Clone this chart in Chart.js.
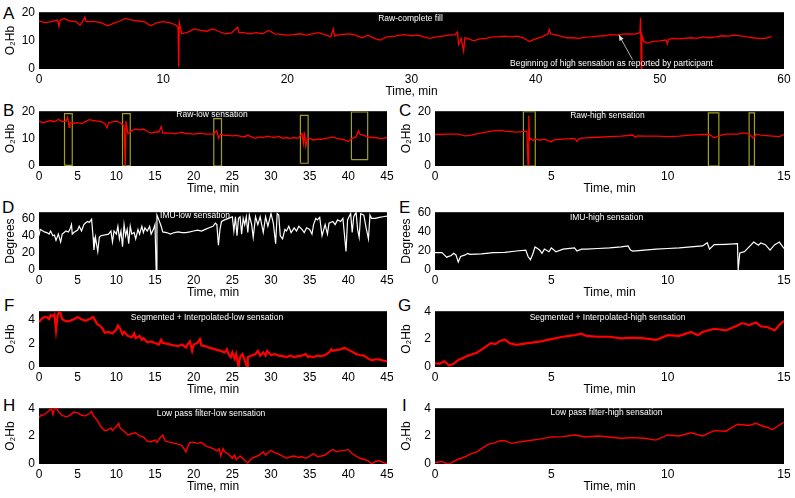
<!DOCTYPE html>
<html lang="en">
<head>
<meta charset="UTF-8">
<title>O2Hb and IMU signals</title>
<script src="https://cdn.jsdelivr.net/npm/chart.js/dist/chart.umd.min.js"></script>
<style>
  body { margin: 0; background: #fff; width: 795px; height: 498px; position: relative; overflow: hidden;
         font-family: "Liberation Sans", Arial, sans-serif; }
  canvas { position: absolute; }
  .tag { position: absolute; font-size: 17px; line-height: 17px; color: #000; }
</style>
</head>
<body>
<div class="tag" style="left:3px;top:5px">A</div>
<div class="tag" style="left:3px;top:102px">B</div>
<div class="tag" style="left:399px;top:102px">C</div>
<div class="tag" style="left:2px;top:199px">D</div>
<div class="tag" style="left:399px;top:199px">E</div>
<div class="tag" style="left:4px;top:297px">F</div>
<div class="tag" style="left:398px;top:297px">G</div>
<div class="tag" style="left:3px;top:397px">H</div>
<div class="tag" style="left:402px;top:397px">I</div>
<script>
// ---- data: [time (min), value] ----
const rawComplete = [[0,16.9],[0.5,16.3],[1,16.7],[1.5,17.2],[1.6,15.0],[1.7,17.0],[2,17.8],[2.5,16.9],[3,16.7],[3.3,15.4],[3.5,16.7],[3.7,18.3],[3.8,16.7],[4,16.7],[4.5,16.7],[5,16.3],[5.5,15.2],[6,16.1],[6.5,16.9],[7,17.8],[7.5,17.2],[8,16.9],[8.5,16.6],[9,15.2],[9.5,16.3],[10,16.7],[10.5,16.3],[11,15.6],[11.2,14.7],[11.25,0.8],[11.3,16.3],[11.5,12.4],[12,13.0],[12.5,14.1],[13,13.6],[13.5,13.3],[14,14.1],[14.5,13.2],[15,12.4],[15.5,12.7],[16,14.7],[16.1,12.8],[16.5,12.8],[17,12.4],[17.5,12.8],[18,12.4],[18.5,13.6],[19,12.4],[19.5,12.2],[20,11.9],[20.5,12.1],[21,12.4],[21.5,11.9],[22,12.4],[22.5,12.8],[23,12.1],[23.5,11.3],[23.7,14.1],[23.8,11.6],[24,11.9],[24.5,12.2],[25,12.4],[25.5,11.9],[26,11.0],[26.5,11.9],[27,10.8],[27.5,10.2],[28,11.3],[28.7,11.6],[29,11.9],[29.5,12.1],[30,11.7],[30.5,11.9],[31,11.3],[31.5,10.8],[32,11.3],[32.5,11.6],[33,11.9],[33.5,12.1],[33.7,13.0],[33.8,8.6],[34,10.8],[34.2,6.3],[34.3,11.0],[34.5,10.8],[35,9.9],[35.5,10.6],[36,10.8],[36.5,11.3],[37,11.3],[37.5,11.6],[38,11.3],[38.5,11.6],[39,11.0],[39.5,9.7],[40,10.6],[40.5,11.3],[41,12.4],[41.1,13.9],[41.2,12.4],[41.5,12.1],[42,11.6],[42.5,11.0],[43,11.0],[43.5,10.8],[44,11.2],[44.5,11.3],[45,11.6],[45.5,11.7],[46,12.1],[46.5,11.9],[47,12.3],[47.5,12.4],[48,12.3],[48.4,12.8],[48.45,18.0],[48.5,0],[48.55,12.0],[48.7,9.7],[49,9.1],[49.5,9.7],[50,9.9],[50.5,10.2],[50.6,8.8],[50.7,10.4],[51,10.8],[51.5,10.6],[52,10.8],[52.5,11.0],[53,10.8],[53.5,11.3],[54,11.0],[54.5,11.3],[55,11.7],[55.5,11.6],[56,11.9],[56.5,11.7],[57,11.3],[57.5,11.0],[58,10.8],[58.5,10.8],[59,11.4]];

const rawLow = [[0,16.4],[0.5,15.8],[1,16.2],[1.5,16.6],[2,16.1],[2.5,17.0],[3,16.2],[3.5,16.4],[3.7,17.8],[3.9,14.1],[4,15.8],[4.5,15.6],[5,15.8],[5.5,15.5],[6,16.2],[6.5,16.9],[7,16.6],[7.5,16.4],[8,16.2],[8.5,15.5],[8.8,13.9],[9,15.8],[9.5,16.1],[10,16.4],[10.5,15.8],[11,14.7],[11.15,0],[11.25,16.4],[11.5,11.8],[12,12.9],[12.5,13.5],[13,13.2],[13.5,13.5],[14,12.6],[14.5,12.0],[15,12.4],[15.5,12.4],[15.8,14.3],[16,12.0],[16.5,12.1],[17,12.0],[17.5,11.8],[18,12.0],[18.5,12.3],[19,11.8],[19.5,11.8],[20,11.6],[20.5,11.8],[21,12.0],[21.5,11.6],[22,11.6],[22.5,11.6],[23,12.9],[23.2,10.1],[23.5,11.6],[24,11.2],[24.5,11.2],[25,11.0],[25.5,11.2],[26,10.9],[26.5,10.6],[27,11.2],[27.5,10.6],[28,10.1],[28.5,10.6],[29,10.4],[29.5,10.9],[30,10.6],[30.5,10.4],[31,10.9],[31.5,10.1],[32,10.4],[32.5,10.1],[33,10.4],[33.5,10.1],[34,11.8],[34.2,8.3],[34.3,12.4],[34.5,7.2],[34.7,10.1],[35,10.1],[35.5,9.5],[36,9.8],[36.5,9.7],[37,10.1],[37.5,10.3],[38,10.6],[38.5,10.1],[39,9.8],[39.5,9.5],[40,8.9],[40.5,10.1],[41,10.6],[41.3,12.9],[41.5,11.6],[42,11.2],[42.5,10.6],[43,10.4],[43.5,10.4],[44,10.1],[44.5,10.1],[45,10.4]];

const rawHigh = [[0,11.5],[0.5,11.6],[1,11.6],[1.3,11.0],[1.5,11.2],[2,12.1],[2.5,12.8],[2.8,13.0],[3,12.7],[3.5,12.4],[3.95,12.7],[4.0,0],[4.03,18.3],[4.06,9.5],[4.1,10.1],[4.2,9.3],[4.3,9.8],[4.5,9.5],[4.7,9.8],[5,8.8],[5.1,9.5],[5.5,9.8],[6,10.1],[6.1,9.0],[6.2,10.1],[6.5,10.3],[7,10.5],[7.5,10.7],[8,10.9],[8.5,11.3],[8.6,10.5],[8.7,11.0],[9,10.9],[9.5,10.9],[10,10.7],[10.5,10.9],[11,11.3],[11.5,11.5],[11.8,11.5],[12,10.3],[12.3,11.3],[12.5,11.6],[13,11.6],[13.3,12.1],[13.5,11.6],[13.7,10.1],[13.8,11.6],[14,11.3],[14.5,10.9],[14.8,10.7],[15,11.5]];

const imuLow = [[0,39.7],[0.15,47.1],[0.3,46.3],[0.7,44.1],[1,43.4],[1.3,41.6],[1.5,45.2],[1.8,39.7],[2,40.5],[2.2,34.3],[2.5,41.6],[2.8,32.4],[3,41.6],[3.5,45.2],[3.8,44.1],[4,47.1],[4.2,52.6],[4.3,41.6],[4.5,43.4],[5,46.3],[5.2,50.7],[5.5,45.2],[5.8,52.6],[6,54.4],[6.3,56.2],[6.5,55.1],[6.8,58.8],[7,37.9],[7.1,23.3],[7.3,37.9],[7.6,21.4],[7.8,37.9],[8,39.7],[9,41.6],[9.3,45.2],[9.5,32.4],[9.7,45.2],[10,41.6],[10.2,50.7],[10.4,36.1],[10.6,45.2],[10.8,26.9],[11,52.6],[11.2,39.7],[11.4,47.1],[11.6,30.6],[11.8,50.7],[12,41.6],[12.3,43.4],[12.5,36.1],[12.8,47.1],[13,41.6],[13.3,50.7],[13.5,43.4],[13.7,48.9],[14,45.2],[14.3,50.7],[14.5,41.6],[14.8,47.1],[15,52.6],[15.15,0],[15.25,63.6],[15.5,58.1],[15.8,50.7],[16,44.1],[16.5,43.4],[17,41.6],[17.5,43.4],[18,44.1],[18.5,43.4],[19,43.4],[19.5,44.1],[20,45.2],[20.5,46.3],[21,45.2],[21.5,47.1],[22,48.9],[22.5,50.7],[22.8,54.4],[23,52.6],[23.2,28.8],[23.4,47.1],[23.6,56.2],[24,58.1],[24.5,59.9],[25,61.7],[25.2,45.2],[25.4,61.7],[25.6,39.7],[25.8,59.9],[26,61.7],[26.2,41.6],[26.4,59.9],[26.6,52.6],[26.8,61.7],[27,43.4],[27.2,63.6],[27.5,52.6],[27.7,37.9],[28,61.7],[28.3,52.6],[28.6,61.7],[29,43.4],[29.3,61.7],[29.6,50.7],[30,65.4],[30.3,54.4],[30.6,30.6],[30.8,65.4],[31,63.6],[31.2,39.7],[31.5,36.1],[31.8,47.1],[32,45.2],[32.3,50.7],[32.6,43.4],[33,48.9],[33.3,45.2],[33.6,50.7],[34,47.1],[34.3,43.4],[34.6,48.9],[35,47.1],[35.3,41.6],[35.5,52.6],[35.8,59.9],[36,58.1],[36.3,61],[36.6,39.7],[37,52.6],[37.3,41.6],[37.5,54.4],[38,56.2],[38.3,52.6],[38.6,58.1],[39,56.2],[39.3,59.9],[39.7,21.4],[39.9,58.1],[40,59.9],[40.3,65.4],[40.5,43.4],[40.7,61.7],[41,67],[41.2,47.1],[41.4,37.9],[41.6,65.4],[42,63.6],[42.3,48.9],[42.6,36.1],[42.8,63.6],[43,59.9],[43.5,59.9],[44,61],[44.5,61.7],[45,62.5]];

const imuHigh = [[0,18],[0.3,18],[0.4,15.7],[0.5,13.3],[0.7,15],[0.8,17.3],[0.9,15.7],[1,8.3],[1.1,14],[1.3,15.7],[1.4,17.3],[1.5,16.3],[2,16.7],[2.5,18],[3,18.3],[3.5,19.7],[3.9,20.7],[4,14],[4.1,10.7],[4.2,16.3],[4.3,24],[4.5,20.7],[4.6,17.3],[4.7,21.7],[4.9,19],[5,23],[5.2,19],[5.5,21.7],[6,23],[6.1,19.7],[6.3,21.7],[6.5,21.7],[7,22.3],[7.5,23],[8,24],[8.3,25],[8.4,20.7],[8.5,19.7],[9,20.7],[9.5,21.7],[10,22.3],[10.5,23],[11,24],[11.5,25],[11.7,28.3],[11.8,21.7],[12,26.3],[12.5,26.7],[13,27.3],[13.03,0],[13.1,17.7],[13.3,19],[13.5,24],[13.7,29],[13.9,25.7],[14,28],[14.2,26.3],[14.4,20.7],[14.6,26.3],[14.8,29],[15,22.3]];

const segLow = [[0,3.76],[0.3,4.03],[0.5,4.16],[1,4.21],[1.3,4.03],[1.5,4.37],[1.8,4.29],[2,4.43],[2.2,3.09],[2.4,4.29],[2.6,4.64],[2.8,4.48],[3,4.03],[3.5,3.84],[4,3.89],[4.5,4.03],[5,4.21],[5.5,4.03],[6,3.89],[6.5,4.03],[7,4.21],[7.3,3.89],[7.5,3.63],[8,3.41],[8.3,3.15],[8.5,2.88],[9,2.96],[9.5,2.83],[10,3.15],[10.2,3.49],[10.5,3.23],[10.8,2.77],[11,2.96],[11.5,2.61],[12,2.51],[12.3,2.83],[12.5,2.43],[13,2.61],[13.3,2.29],[13.5,2.43],[14,2.08],[14.5,2.16],[15,2.03],[15.5,1.89],[15.8,2.29],[16,2.03],[16.5,1.97],[17,1.89],[17.5,1.81],[18,1.76],[18.5,1.89],[19,1.63],[19.2,1.89],[19.5,2.16],[19.8,1.36],[20,1.89],[20.5,2.03],[20.8,2.35],[21,1.81],[21.5,1.76],[22,1.63],[22.5,1.55],[23,1.44],[23.5,1.36],[24,1.23],[24.3,1.49],[24.5,1.09],[24.8,0.83],[25,1.23],[25.3,0.69],[25.5,1.09],[25.8,0.03],[26,0.83],[26.3,1.09],[26.6,0.56],[26.9,0.02],[27,0.83],[27.5,0.96],[28,1.09],[28.3,1.36],[28.6,0.96],[29,1.23],[29.3,0.96],[29.5,1.36],[30,1.01],[30.5,1.09],[31,0.96],[31.5,0.91],[32,0.83],[32.5,0.96],[33,0.83],[33.5,0.91],[34,0.96],[34.5,1.09],[34.8,0.83],[35,0.91],[35.5,0.83],[36,0.96],[36.5,0.91],[37,1.01],[37.5,1.23],[37.8,1.49],[38,1.36],[38.5,1.44],[39,1.49],[39.5,1.63],[40,1.44],[40.5,1.28],[41,1.09],[41.5,1.01],[42,0.96],[42.5,0.75],[43,0.56],[43.5,0.64],[44,0.64],[44.5,0.53],[45,0.48]];

const segHigh = [[0,0.27],[0.2,0.23],[0.4,0.41],[0.5,0.27],[0.6,0.11],[0.8,0.23],[1,0.5],[1.2,0.64],[1.4,0.8],[1.6,0.91],[1.8,1.02],[2,1.25],[2.2,1.48],[2.4,1.71],[2.6,1.64],[2.8,1.87],[3,1.98],[3.2,1.71],[3.5,1.59],[4,1.71],[4.5,1.82],[5,2.0],[5.5,2.17],[6,2.28],[6.3,2.39],[6.5,2.23],[7,2.17],[7.5,2.17],[8,2.05],[8.5,2.1],[9,2.05],[9.5,1.94],[10,2.28],[10.5,2.23],[11,2.51],[11.3,2.28],[11.5,2.51],[12,2.74],[12.5,2.62],[13,2.97],[13.2,3.15],[13.5,3.01],[13.8,3.19],[14,2.92],[14.3,2.85],[14.6,2.62],[14.8,3.01],[15,3.31]];

const lpfLow = [[0,3.31],[0.3,3.54],[0.5,3.49],[1,3.67],[1.3,3.83],[1.6,3.99],[1.8,3.54],[2,3.99],[2.3,3.95],[2.5,3.76],[3,3.49],[3.5,3.38],[4,3.49],[4.5,3.72],[5,3.67],[5.5,3.49],[6,3.45],[6.5,3.6],[6.8,3.76],[7,3.49],[7.5,3.15],[8,2.69],[8.5,2.39],[9,2.46],[9.3,2.58],[9.5,2.39],[10,2.69],[10.3,2.92],[10.5,2.58],[11,2.35],[11.5,2.08],[12,2.17],[12.5,2.24],[13,2.01],[13.5,1.94],[14,1.62],[14.5,1.6],[15,1.71],[15.3,1.55],[15.5,1.78],[16,2.08],[16.3,1.67],[16.5,1.62],[17,1.55],[17.5,1.48],[18,1.43],[18.5,1.32],[19,0.87],[19.3,1.32],[19.5,1.55],[20,1.55],[20.5,1.48],[21,1.55],[21.5,1.32],[22,1.21],[22.5,1.1],[23,0.94],[23.3,1.1],[23.5,0.57],[23.8,1.1],[24,0.87],[24.5,0.71],[25,0.41],[25.3,0.64],[25.5,0.3],[26,0.57],[26.5,0.3],[27,0.07],[27.5,0.41],[28,0.52],[28.5,0.64],[29,0.87],[29.3,0.64],[29.5,0.75],[30,0.98],[30.5,0.8],[31,0.71],[31.5,0.57],[32,0.41],[32.5,0.52],[33,0.57],[33.5,0.48],[34,0.52],[34.5,0.41],[35,0.57],[35.5,0.75],[36,0.52],[36.5,0.57],[37,0.64],[37.5,0.87],[38,1.03],[38.5,0.87],[39,0.94],[39.5,0.98],[40,1.03],[40.5,0.75],[41,0.57],[41.5,0.41],[42,0.34],[42.5,0.25],[43,0.02],[43.5,0.18],[44,0.23],[44.5,0.11],[45,0.02]];

const lpfHigh = [[0,0.11],[0.3,0.18],[0.5,0.02],[0.6,0],[0.8,0.18],[1,0.34],[1.3,0.52],[1.5,0.71],[1.8,0.87],[2,1.1],[2.3,1.43],[2.5,1.48],[2.8,1.67],[3,1.67],[3.3,1.48],[3.5,1.55],[4,1.67],[4.5,1.78],[5,1.94],[5.5,1.96],[6,2.08],[6.5,1.94],[7,2.01],[7.5,1.94],[8,1.85],[8.5,1.89],[9,1.85],[9.5,1.71],[10,2.08],[10.5,2.01],[11,2.24],[11.5,2.01],[12,2.39],[12.5,2.35],[13,2.85],[13.5,2.76],[13.8,2.92],[14,2.76],[14.3,2.62],[14.5,2.46],[14.7,2.69],[15,2.99]];

// artefact windows: [t start, t end, y low, y high]
const boxesLow = [[3.3,4.3,0.2,19.1],[10.8,11.8,0.1,19.1],[22.6,23.6,0,17.3],[33.8,34.8,1.0,18.5],[40.4,42.5,2.3,19.7]];
const boxesHigh = [[3.8,4.31,0,19.8],[11.75,12.2,0,19.4],[13.5,13.73,0,19.4]];

// arrow in panel A: tail, head, text anchor  [t, O2Hb]
const noteA = { from: [47.8, 3.3], to: [46.7, 12], at: [46.1, 2.0],
                text: 'Beginning of high sensation as reported by participant' };

// tick values
const xTicks60 = [0, 10, 20, 30, 40, 50, 60];
const xTicks45 = [0, 5, 10, 15, 20, 25, 30, 35, 40, 45];
const xTicks15 = [0, 5, 10, 15];
const yTicksRaw = [0, 10, 20];
const yTicksImu = [0, 20, 40, 60];
const yTicksSeg = [0, 2, 4];

Chart.defaults.font.family = '"Liberation Sans", "DejaVu Sans", Arial, sans-serif';
Chart.defaults.color = '#000';

const panelDeco = {
  id: 'panelDeco',
  beforeDraw(chart) {
    const { ctx, chartArea: a } = chart;
    ctx.save();
    ctx.fillStyle = '#000';
    ctx.fillRect(a.left, a.top, a.right - a.left, a.bottom - a.top);
    ctx.restore();
  },
  afterDatasetsDraw(chart, args, opts) {
    const { ctx, chartArea: a, scales } = chart;
    ctx.save();
    ctx.fillStyle = '#fff';
    ctx.font = '8.5px "Liberation Sans", Arial, sans-serif';
    ctx.textAlign = 'center';
    ctx.textBaseline = 'middle';
    ctx.fillText(opts.label, (a.left + a.right) / 2 + opts.dx, a.top + opts.dy);
    if (opts.note) {
      const n = opts.note;
      const px = p => [scales.x.getPixelForValue(p[0]), scales.y.getPixelForValue(p[1])];
      const [x0, y0] = px(n.from), [x1, y1] = px(n.to), [tx, ty] = px(n.at);
      ctx.fillText(n.text, tx, ty);
      ctx.strokeStyle = '#e0e0e0';
      ctx.fillStyle = '#e0e0e0';
      ctx.lineWidth = 0.8;
      ctx.beginPath(); ctx.moveTo(x0, y0); ctx.lineTo(x1, y1); ctx.stroke();
      const ang = Math.atan2(y1 - y0, x1 - x0), h = 6;
      ctx.beginPath();
      ctx.moveTo(x1, y1);
      ctx.lineTo(x1 - h * Math.cos(ang - 0.4), y1 - h * Math.sin(ang - 0.4));
      ctx.lineTo(x1 - h * Math.cos(ang + 0.4), y1 - h * Math.sin(ang + 0.4));
      ctx.closePath(); ctx.fill();
    }
    ctx.restore();
  }
};

function makePanel(p) {
  const [L, T, R, B] = p.box;
  const padTop = 8, padRight = 10, yW = 39, xH = 30;
  const canvas = document.createElement('canvas');
  canvas.width = (R - L) + yW + padRight;
  canvas.height = (B - T) + padTop + xH;
  canvas.style.left = (L - yW) + 'px';
  canvas.style.top = (T - padTop) + 'px';
  document.body.appendChild(canvas);

  const datasets = [{
    data: p.data.map(([x, y]) => ({ x, y })),
    borderColor: p.color, borderWidth: p.width, pointRadius: 0, tension: 0
  }];
  (p.boxes || []).forEach(([x0, x1, y0, y1]) => {
    datasets.push({
      data: [{ x: x0, y: y0 }, { x: x1, y: y0 }, { x: x1, y: y1 }, { x: x0, y: y1 }, { x: x0, y: y0 }],
      borderColor: '#a3a01c', borderWidth: 1.2, pointRadius: 0, tension: 0
    });
  });

  new Chart(canvas, {
    type: 'line',
    data: { datasets },
    options: {
      responsive: false,
      animation: false,
      events: [],
      layout: { padding: { top: padTop, right: padRight, left: 0, bottom: 0 } },
      plugins: {
        legend: { display: false },
        tooltip: { enabled: false },
        panelDeco: { label: p.label, dx: p.dx, dy: p.dy, note: p.note }
      },
      scales: {
        x: {
          type: 'linear', min: 0, max: p.xMax,
          grid: { display: false, drawTicks: false }, border: { display: false },
          ticks: { padding: 3, font: { size: 12 }, maxRotation: 0 },
          title: { display: true, text: 'Time, min', font: { size: 12 }, padding: 0 },
          afterBuildTicks: s => { s.ticks = p.xTicks.map(value => ({ value })); },
          afterFit: s => { s.height = xH; }
        },
        y: {
          type: 'linear', min: 0, max: p.yMax,
          grid: { display: false, drawTicks: false }, border: { display: false },
          ticks: { padding: 4, font: { size: 12 } },
          title: { display: true, text: p.yTitle, font: { size: 12 }, padding: { top: 3, bottom: 0 } },
          afterBuildTicks: s => { s.ticks = p.yTicks.map(value => ({ value })); },
          afterFit: s => { s.width = yW; }
        }
      }
    },
    plugins: [panelDeco]
  });
}

const panels = [
  { box: [39, 9, 784, 69], data: rawComplete, color: '#ff0000', width: 1.3, xMax: 60, yMax: 20,
    xTicks: xTicks60, yTicks: yTicksRaw, yTitle: 'O₂Hb', label: 'Raw-complete fill', dx: -1, dy: 6, note: noteA },
  { box: [39, 108, 387, 166], data: rawLow, boxes: boxesLow, color: '#ff0000', width: 1.3, xMax: 45, yMax: 20,
    xTicks: xTicks45, yTicks: yTicksRaw, yTitle: 'O₂Hb', label: 'Raw-low sensation', dx: -1, dy: 3 },
  { box: [435, 108, 784, 166], data: rawHigh, boxes: boxesHigh, color: '#ff0000', width: 1.3, xMax: 15, yMax: 20,
    xTicks: xTicks15, yTicks: yTicksRaw, yTitle: 'O₂Hb', label: 'Raw-high sensation', dx: -2, dy: 4 },
  { box: [39, 209, 387, 270], data: imuLow, color: '#ffffff', width: 1.2, xMax: 45, yMax: 67,
    xTicks: xTicks45, yTicks: yTicksImu, yTitle: 'Degrees', label: 'IMU-low sensation', dx: -18, dy: 3 },
  { box: [435, 209, 784, 270], data: imuHigh, color: '#ffffff', width: 1.2, xMax: 15, yMax: 60,
    xTicks: xTicks15, yTicks: yTicksImu, yTitle: 'Degrees', label: 'IMU-high sensation', dx: -3, dy: 5.5 },
  { box: [39, 308, 387, 367], data: segLow, color: '#ff0000', width: 2.2, xMax: 45, yMax: 4.7,
    xTicks: xTicks45, yTicks: yTicksSeg, yTitle: 'O₂Hb', label: 'Segmented + Interpolated-low sensation', dx: -6, dy: 6.5 },
  { box: [435, 308, 784, 367], data: segHigh, color: '#ff0000', width: 2.2, xMax: 15, yMax: 4,
    xTicks: xTicks15, yTicks: yTicksSeg, yTitle: 'O₂Hb', label: 'Segmented + Interpolated-high sensation', dx: -2, dy: 6.5 },
  { box: [39, 405, 387, 464], data: lpfLow, color: '#ff0000', width: 1.4, xMax: 45, yMax: 4,
    xTicks: xTicks45, yTicks: yTicksSeg, yTitle: 'O₂Hb', label: 'Low pass filter-low sensation', dx: -2, dy: 5.5 },
  { box: [435, 405, 784, 464], data: lpfHigh, color: '#ff0000', width: 1.4, xMax: 15, yMax: 4,
    xTicks: xTicks15, yTicks: yTicksSeg, yTitle: 'O₂Hb', label: 'Low pass filter-high sensation', dx: -3, dy: 4.5 }
];

panels.forEach(makePanel);
</script>
</body>
</html>
